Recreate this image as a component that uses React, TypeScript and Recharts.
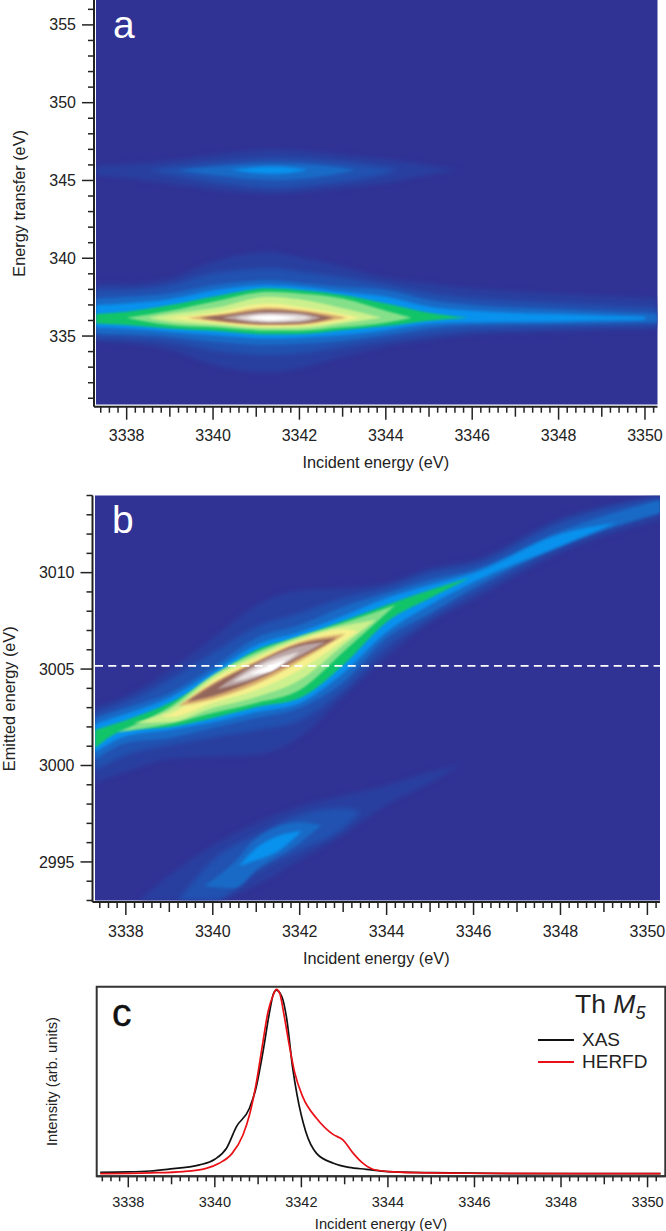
import { ComposedChart, Area, Line, XAxis, YAxis, Legend, ReferenceLine, ReferenceArea } from "recharts";

const FONT = '"Liberation Sans", Arial, sans-serif';
const INK = "#222";
const DEEP = "#303294";

const X_MIN = 3337.29;
const X_MAX = 3350.29;
const xTicks = Array.from({ length: 65 }, (_, i) => (33374 + 2 * i) / 10);

// panel a: y ticks and contour outlines (top / bottom edge of every level)
const aYTicks = [331, 332, 333, 334, 335, 336, 337, 338, 339, 340, 341, 342, 343, 344, 345, 346, 347, 348, 349, 350, 351, 352, 353, 354, 355, 356];
const aWideX = [X_MIN, 3338, 3339, 3340, 3341.3, 3342, 3343, 3344, 3345, 3346, 3348, X_MAX];
const aTop1 = [338.34, 338.34, 338.71, 339.78, 340.42, 340.1, 339.46, 338.75, 338.39, 338.07, 337.74, 337.42];
const aBot1 = [334.64, 334.53, 334.1, 333.14, 332.66, 332.92, 333.67, 334.31, 334.74, 335.06, 335.28, 335.43];
const aTop2 = [337.96, 337.96, 338.28, 339.03, 339.35, 339.14, 338.77, 338.28, 337.74, 337.42, 337.1, 336.78];
const aBot2 = [334.91, 334.85, 334.64, 334.1, 333.78, 333.89, 334.31, 334.74, 335.11, 335.39, 335.56, 335.71];
const aTop3 = [337.42, 337.53, 337.74, 338.28, 338.6, 338.43, 338.17, 337.96, 337.32, 336.99, 336.71, 336.44];
const aBot3 = [335.17, 335.11, 334.96, 334.64, 334.42, 334.49, 334.7, 335.06, 335.49, 335.71, 335.77, 335.88];
const aX4 = [X_MIN, 3338, 3339, 3340, 3341.3, 3342, 3343, 3344, 3345, 3346, 3348, 3350];
const aTop4 = [336.99, 337.1, 337.36, 337.92, 338.28, 338.17, 337.85, 337.53, 336.89, 336.63, 336.41, 336.24];
const aBot4 = [335.56, 335.49, 335.28, 335.06, 334.85, 334.89, 335.06, 335.39, 335.77, 335.88, 335.94, 336.04];
const aX5 = [X_MIN, 3338, 3339, 3340, 3341.3, 3342, 3343, 3344, 3345, 3345.9];
const aTop5 = [336.41, 336.56, 336.99, 337.53, 338.07, 337.96, 337.64, 337.1, 336.5, 336.18];
const aBot5 = [335.81, 335.71, 335.49, 335.34, 335.11, 335.13, 335.39, 335.64, 335.99, 336.18];
const aX6 = [3338, 3339, 3340, 3341.3, 3342, 3343, 3344, 3344.6];
const aTop6 = [336.18, 336.63, 337.21, 337.85, 337.74, 337.42, 336.63, 336.18];
const aBot6 = [336.18, 335.71, 335.56, 335.34, 335.34, 335.56, 335.86, 336.18];
const aX7 = [3338.5, 3339, 3340, 3341.3, 3342, 3343, 3343.9];
const aTop7 = [336.18, 336.41, 336.78, 337.53, 337.36, 336.78, 336.18];
const aBot7 = [336.18, 335.92, 335.71, 335.49, 335.49, 335.81, 336.18];
const aX8 = [3338.9, 3340, 3341.3, 3342, 3343, 3343.4];
const aTop8 = [336.18, 336.5, 337.1, 336.89, 336.41, 336.18];
const aBot8 = [336.18, 335.86, 335.6, 335.64, 335.96, 336.18];
const aX9 = [3339.4, 3340, 3341.3, 3342, 3342.8, 3343.1];
const aTop9 = [336.18, 336.33, 336.84, 336.67, 336.35, 336.18];
const aBot9 = [336.18, 335.96, 335.69, 335.73, 336.03, 336.18];
const aX10 = [3339.7, 3340.3, 3341.3, 3342, 3342.8];
const aTop10 = [336.18, 336.35, 336.67, 336.54, 336.18];
const aBot10 = [336.18, 335.94, 335.77, 335.81, 336.18];
const aX11 = [3340.2, 3341.3, 3342, 3342.5];
const aTop11 = [336.18, 336.55, 336.46, 336.18];
const aBot11 = [336.18, 335.84, 335.88, 336.18];
const aX12 = [3340.5, 3341.3, 3341.9, 3342.3];
const aTop12 = [336.18, 336.42, 336.37, 336.18];
const aBot12 = [336.18, 335.92, 335.98, 336.18];
const aX13 = [3340.8, 3341.3, 3341.95];
const aTop13 = [336.18, 336.32, 336.18];
const aBot13 = [336.18, 336.02, 336.18];

// panel a: the weak feature near 345.7 eV
const a2X1 = [X_MIN, 3338, 3339, 3340, 3341.4, 3342, 3343, 3344, 3345, 3345.7];
const a2Top1 = [345.95, 346.06, 346.28, 346.64, 347.0, 346.92, 346.64, 346.36, 346.0, 345.68];
const a2Bot1 = [345.29, 345.14, 344.77, 344.39, 344.11, 344.22, 344.5, 344.82, 345.35, 345.68];
const a2X2 = [3338.5, 3339.5, 3340.5, 3341.4, 3342.5, 3343.5, 3344.3];
const a2Top2 = [345.68, 346.0, 346.25, 346.43, 346.28, 346.0, 345.68];
const a2Bot2 = [345.68, 345.14, 344.71, 344.5, 344.77, 345.14, 345.68];
const a2X3 = [3339.2, 3340.2, 3341.4, 3342.6, 3343.3];
const a2Top3 = [345.68, 345.93, 346.1, 345.95, 345.68];
const a2Bot3 = [345.68, 345.29, 345.03, 345.29, 345.68];
const a2X4 = [3340.4, 3341.4, 3342.2];
const a2Top4 = [345.68, 345.89, 345.68];
const a2Bot4 = [345.68, 345.42, 345.68];

// panel b: y ticks and contour outlines
const bYTicks = [2993, 2994, 2995, 2996, 2997, 2998, 2999, 3000, 3001, 3002, 3003, 3004, 3005, 3006, 3007, 3008, 3009, 3010, 3011, 3012, 3013, 3014];
const bWideX = [X_MIN, 3338, 3339, 3340, 3341, 3342, 3343, 3344, 3345, 3346, 3348, X_MAX];
const bTop1 = [3003.03, 3003.6, 3004.95, 3006.61, 3008.32, 3009.1, 3009.2, 3009.46, 3010.24, 3010.65, 3012.83, 3014];
const bBot1 = [2999.09, 2999.66, 3000.33, 3000.44, 3000.54, 3001.47, 3003.55, 3005.62, 3007.39, 3008.58, 3011.02, 3012.73];
const bTop2 = [3002.72, 3003.29, 3004.43, 3005.83, 3007.18, 3007.9, 3008.68, 3009.2, 3009.98, 3010.39, 3012.57, 3013.87];
const bBot2 = [2999.76, 3000.54, 3001.06, 3001.47, 3001.84, 3002.35, 3003.91, 3006.14, 3007.65, 3008.94, 3011.28, 3013.09];
const bTop3 = [3002.46, 3002.98, 3003.76, 3005.1, 3006.61, 3007.28, 3008.22, 3008.94, 3009.62, 3010.13, 3012.16, 3013.77];
const bBot3 = [3000.28, 3001.16, 3001.42, 3001.94, 3002.46, 3002.98, 3004.33, 3006.61, 3007.9, 3009.2, 3011.38, 3013.09];
const bX4 = [X_MIN, 3338, 3339, 3340, 3341, 3342, 3343, 3344, 3345, 3346, 3348, 3349.3];
const bTop4 = [3002.15, 3002.67, 3003.5, 3004.84, 3006.24, 3006.92, 3007.75, 3008.68, 3009.36, 3009.98, 3012.0, 3012.6];
const bBot4 = [3000.69, 3001.53, 3001.84, 3002.25, 3002.77, 3003.24, 3004.79, 3006.92, 3008.32, 3009.51, 3011.38, 3012.6];
const bX5 = [X_MIN, 3338, 3339, 3340, 3341, 3342, 3343, 3344, 3345, 3345.9];
const bTop5 = [3001.84, 3002.35, 3003.24, 3004.53, 3005.99, 3006.66, 3007.49, 3008.32, 3009.1, 3009.72];
const bBot5 = [3000.9, 3001.84, 3001.99, 3002.46, 3003.03, 3003.5, 3005.21, 3007.44, 3008.68, 3009.72];
const bX6 = [3337.8, 3339, 3340, 3341, 3342, 3343, 3344.2];
const bTop6 = [3001.73, 3003.03, 3004.69, 3005.88, 3006.71, 3007.39, 3008.32];
const bBot6 = [3001.73, 3002.15, 3002.72, 3003.24, 3003.91, 3005.88, 3008.32];
const bX7 = [3338.17, 3339, 3340, 3341, 3342, 3343, 3343.75];
const bTop7 = [3002.2, 3002.87, 3004.59, 3005.73, 3006.61, 3007.23, 3007.54];
const bBot7 = [3002.2, 3002.25, 3002.98, 3003.55, 3004.43, 3006.24, 3007.54];
const bX8 = [3338.8, 3339, 3340, 3341, 3342, 3343, 3343.35];
const bTop8 = [3002.61, 3002.67, 3004.43, 3005.57, 3006.5, 3007.07, 3006.97];
const bBot8 = [3002.61, 3002.51, 3003.24, 3003.91, 3004.95, 3006.45, 3006.97];
const bX9 = [3339.2, 3340, 3341, 3342, 3343.05];
const bTop9 = [3003.08, 3004.27, 3005.41, 3006.4, 3006.82];
const bBot9 = [3003.08, 3003.44, 3004.22, 3005.41, 3006.82];
const bX10 = [3339.4, 3340, 3341, 3342, 3342.85];
const bTop10 = [3003.29, 3004.17, 3005.31, 3006.3, 3006.61];
const bBot10 = [3003.29, 3003.6, 3004.43, 3005.57, 3006.61];
const bX11 = [3340.1, 3341, 3342, 3342.6];
const bTop11 = [3003.96, 3005.26, 3006.19, 3006.4];
const bBot11 = [3003.96, 3004.54, 3005.68, 3006.4];
const bX12 = [3340.45, 3341, 3341.5, 3342];
const bTop12 = [3004.33, 3005.1, 3005.57, 3005.88];
const bBot12 = [3004.33, 3004.64, 3005.11, 3005.88];
const bX13 = [3340.85, 3341.3, 3341.7];
const bTop13 = [3004.74, 3005.2, 3005.5];
const bBot13 = [3004.74, 3004.86, 3005.5];

// panel b: the weak diagonal feature near 2995 eV
const b2X1 = [3338.3, 3339, 3340, 3341, 3342, 3343, 3344, 3345, 3345.7];
const b2Top1 = [2993, 2994.32, 2995.87, 2997.01, 2997.89, 2998.46, 2998.98, 2999.66, 3000.02];
const b2Bot1 = [2993, 2993, 2993, 2993.8, 2995.09, 2996.39, 2997.95, 2999.09, 3000.02];
const b2X2 = [3339.2, 3340, 3341, 3342, 3343, 3343.4];
const b2Top2 = [2993, 2995.09, 2996.39, 2997.43, 2997.79, 2997.58];
const b2Bot2 = [2993, 2993, 2994.47, 2995.61, 2996.75, 2997.58];
const b2X3 = [3339.8, 3340.5, 3341, 3342, 3342.5];
const b2Top3 = [2993.74, 2994.99, 2996.23, 2997.06, 2996.91];
const b2Bot3 = [2993.74, 2993.64, 2994.58, 2995.98, 2996.91];
const b2X4 = [3340.6, 3341, 3341.5, 3342.05];
const b2Top4 = [2994.78, 2995.72, 2996.34, 2996.6];
const b2Bot4 = [2994.78, 2995.09, 2995.56, 2996.6];

// panel c: scans, intensity in percent of the box height
const xasX = [3337.35, 3338, 3338.5, 3338.9, 3339.65, 3340, 3340.27, 3340.5, 3340.8, 3340.95, 3341.1, 3341.28, 3341.35, 3341.42, 3341.55, 3341.66, 3341.8, 3341.9, 3342.1, 3342.35, 3342.74, 3343.1, 3343.5, 3344, 3345, 3347.3, 3350.3];
const xasY = [2.1, 2.3, 2.8, 3.7, 6.0, 9.0, 14.8, 26.2, 35.9, 46.4, 64, 88.6, 96, 98.2, 94.7, 83.3, 56.9, 42.9, 23.6, 12.1, 6.9, 4.7, 3.7, 2.5, 1.9, 1.4, 1.4];
const herfdX = [3337.35, 3338.5, 3339.27, 3339.8, 3340.1, 3340.4, 3340.65, 3340.8, 3340.95, 3341.1, 3341.23, 3341.35, 3341.42, 3341.5, 3341.6, 3341.72, 3341.84, 3342.03, 3342.35, 3342.73, 3342.96, 3343.2, 3343.42, 3343.65, 3344, 3344.65, 3345.8, 3350.3];
const herfdY = [1.4, 1.8, 2.5, 4.2, 6.9, 12.1, 21.8, 32.3, 48.2, 69.2, 86.8, 95.6, 98.6, 96.5, 85, 69.2, 55.2, 42, 30.6, 22.1, 19.2, 12.1, 6.9, 3.7, 2.5, 1.9, 1.6, 1.4];

const LEVEL_1 = "#293f9f";
const LEVEL_2 = "#2152b1";
const LEVEL_3 = "#196ac6";
const LEVEL_4 = "#0892ee";
const LEVEL_5 = "#12c468";
const LEVEL_6 = "#86e08a";
const LEVEL_7 = "#cdf08e";
const LEVEL_8 = "#f6f08e";
const LEVEL_9 = "#d9ad6e";
const LEVEL_10 = "#93665c";
const LEVEL_11 = "#bba6a6";
const LEVEL_12 = "#e6dede";
const LEVEL_13 = "#ffffff";

// softness of each level: the broad blue ones get the widest blur
const softWide = [LEVEL_1, LEVEL_2];
const softMid = [LEVEL_3, LEVEL_4];

type Band = [number[], number[], number[], string];

const aBands: Band[] = [
  [a2X1, a2Top1, a2Bot1, LEVEL_1],
  [a2X2, a2Top2, a2Bot2, LEVEL_2],
  [a2X3, a2Top3, a2Bot3, LEVEL_3],
  [a2X4, a2Top4, a2Bot4, LEVEL_4],
  [aWideX, aTop1, aBot1, LEVEL_1],
  [aWideX, aTop2, aBot2, LEVEL_2],
  [aWideX, aTop3, aBot3, LEVEL_3],
  [aX4, aTop4, aBot4, LEVEL_4],
  [aX5, aTop5, aBot5, LEVEL_5],
  [aX6, aTop6, aBot6, LEVEL_6],
  [aX7, aTop7, aBot7, LEVEL_7],
  [aX8, aTop8, aBot8, LEVEL_8],
  [aX9, aTop9, aBot9, LEVEL_9],
  [aX10, aTop10, aBot10, LEVEL_10],
  [aX11, aTop11, aBot11, LEVEL_11],
  [aX12, aTop12, aBot12, LEVEL_12],
  [aX13, aTop13, aBot13, LEVEL_13],
];

const bBands: Band[] = [
  [b2X1, b2Top1, b2Bot1, LEVEL_1],
  [b2X2, b2Top2, b2Bot2, LEVEL_2],
  [b2X3, b2Top3, b2Bot3, LEVEL_3],
  [b2X4, b2Top4, b2Bot4, LEVEL_4],
  [bWideX, bTop1, bBot1, LEVEL_1],
  [bWideX, bTop2, bBot2, LEVEL_2],
  [bWideX, bTop3, bBot3, LEVEL_3],
  [bX4, bTop4, bBot4, LEVEL_4],
  [bX5, bTop5, bBot5, LEVEL_5],
  [bX6, bTop6, bBot6, LEVEL_6],
  [bX7, bTop7, bBot7, LEVEL_7],
  [bX8, bTop8, bBot8, LEVEL_8],
  [bX9, bTop9, bBot9, LEVEL_9],
  [bX10, bTop10, bBot10, LEVEL_10],
  [bX11, bTop11, bBot11, LEVEL_11],
  [bX12, bTop12, bBot12, LEVEL_12],
  [bX13, bTop13, bBot13, LEVEL_13],
];

const toRows = (xs: number[], top: number[], bot: number[]) => xs.map((x, i) => ({ x, range: [bot[i], top[i]] }));
const toLine = (xs: number[], ys: number[]) => xs.map((x, i) => ({ x, y: ys[i] }));
const softClass = (color: string) => {
  if (softWide.includes(color)) return "soft-wide";
  if (softMid.includes(color)) return "soft-mid";
  return "soft-thin";
};

function makeXTick(fontSize: number, labelDy: number, lens: number[]) {
  return function XTick({ x, y, payload }: any) {
    const v = payload.value;
    const isMajor = Math.abs(v / 2 - Math.round(v / 2)) < 1e-6;
    const isMid = Math.abs(v - Math.round(v)) < 1e-6;
    const len = isMajor ? lens[2] : isMid ? lens[1] : lens[0];
    return (
      <g>
        <line x1={x} x2={x} y1={y} y2={y + len} stroke={INK} strokeWidth={1.5} />
        {isMajor && (
          <text x={x} y={y + labelDy} textAnchor="middle" fontSize={fontSize} fontFamily={FONT} fill={INK}>
            {v}
          </text>
        )}
      </g>
    );
  };
}

function YTick({ x, y, payload }: any) {
  const isMajor = payload.value % 5 === 0;
  const len = isMajor ? 12 : 6;
  return (
    <g>
      <line x1={x} x2={x - len} y1={y} y2={y} stroke={INK} strokeWidth={1.5} />
      {isMajor && (
        <text x={x - 18} y={y + 5.6} textAnchor="end" fontSize={16} fontFamily={FONT} fill={INK}>
          {payload.value}
        </text>
      )}
    </g>
  );
}

function HeatPanel({
  top,
  height,
  marginTop,
  marginRight,
  yWidth,
  xHeight,
  xLabelOffset,
  padLeft,
  padBottom,
  yDomain,
  yTicks,
  yLabel,
  yLabelDx,
  bands,
  clipName,
  children,
}: any) {
  const corners = [
    { x: X_MIN, range: yDomain },
    { x: X_MAX, range: yDomain },
  ];
  return (
    <div style={{ position: "absolute", left: 0, top }}>
      <ComposedChart
        width={666}
        height={height}
        margin={{ top: marginTop, right: marginRight, bottom: 0, left: 0 }}
      >
        <XAxis
          type="number"
          dataKey="x"
          domain={[X_MIN, X_MAX]}
          ticks={xTicks}
          interval={0}
          height={xHeight}
          padding={{ left: padLeft, right: 0 }}
          axisLine={{ stroke: INK, strokeWidth: 2 }}
          tickLine={false}
          tickSize={0}
          tickMargin={0}
          tick={makeXTick(16, 34.5, [6, 10, 13])}
          label={{
            value: "Incident energy (eV)",
            position: "insideBottom",
            offset: xLabelOffset,
            style: { fontFamily: FONT, fontSize: 16.3, fill: INK },
          }}
        />
        <YAxis
          type="number"
          domain={yDomain}
          ticks={yTicks}
          interval={0}
          width={yWidth}
          padding={{ top: 0, bottom: padBottom }}
          axisLine={{ stroke: INK, strokeWidth: 2 }}
          tickLine={false}
          tickSize={0}
          tickMargin={0}
          tick={YTick}
          label={{
            value: yLabel,
            angle: -90,
            position: "insideLeft",
            dx: yLabelDx,
            style: { textAnchor: "middle", fontFamily: FONT, fontSize: 16.3, fill: INK },
          }}
        />
        <Area
          data={corners}
          dataKey="range"
          type="linear"
          fill={DEEP}
          fillOpacity={1}
          stroke="none"
          dot={false}
          activeDot={false}
          isAnimationActive={false}
        />
        {bands.map(([xs, t, b, color]: Band, i: number) => (
          <Area
            key={i}
            className={`${softClass(color)} ${clipName}`}
            data={toRows(xs, t, b)}
            dataKey="range"
            type="monotone"
            fill={color}
            fillOpacity={1}
            stroke="none"
            dot={false}
            activeDot={false}
            isAnimationActive={false}
          />
        ))}
        {children}
      </ComposedChart>
    </div>
  );
}

function ScanLegend({ payload }: any) {
  return (
    <div style={{ fontFamily: FONT, fontSize: 19, color: INK, lineHeight: "22px" }}>
      {(payload || []).map((p: any) => (
        <div key={p.value} style={{ display: "flex", alignItems: "center" }}>
          <span style={{ display: "inline-block", width: 36, height: 1.8, background: p.color, marginRight: 8 }} />
          {p.value}
        </div>
      ))}
    </div>
  );
}

function ScanPanel() {
  return (
    <div style={{ position: "absolute", left: 0, top: 980 }}>
      <ComposedChart width={666} height={251} margin={{ top: 6.7, right: 0.7, bottom: 0, left: 0 }}>
        <XAxis
          type="number"
          dataKey="x"
          domain={[3337.27, 3350.41]}
          ticks={xTicks}
          interval={0}
          height={54.7}
          axisLine={{ stroke: "#333", strokeWidth: 2 }}
          tickLine={false}
          tickSize={0}
          tickMargin={0}
          tick={makeXTick(14.5, 30.5, [5, 8, 11])}
          label={{
            value: "Incident energy (eV)",
            position: "insideBottom",
            offset: 2,
            style: { fontFamily: FONT, fontSize: 14.7, fill: INK },
          }}
        />
        <YAxis
          type="number"
          domain={[0, 100]}
          width={96.7}
          axisLine={false}
          tick={false}
          tickLine={false}
          label={{
            value: "Intensity (arb. units)",
            angle: -90,
            position: "insideLeft",
            dx: 47,
            style: { textAnchor: "middle", fontFamily: FONT, fontSize: 14.7, fill: INK },
          }}
        />
        <ReferenceArea x1={3337.27} x2={3350.41} y1={0} y2={100} fill="none" stroke="#333" strokeWidth={2} />
        <Line
          data={toLine(xasX, xasY)}
          dataKey="y"
          name="XAS"
          type="monotone"
          stroke="#111"
          strokeWidth={1.7}
          dot={false}
          activeDot={false}
          isAnimationActive={false}
        />
        <Line
          data={toLine(herfdX, herfdY)}
          dataKey="y"
          name="HERFD"
          type="monotone"
          stroke="#ea1016"
          strokeWidth={1.7}
          dot={false}
          activeDot={false}
          isAnimationActive={false}
        />
        <Legend
          content={ScanLegend}
          itemSorter={null}
          layout="horizontal"
          align="center"
          verticalAlign="middle"
          wrapperStyle={{ left: 538, top: 49, width: 125, bottom: "auto" }}
        />
      </ComposedChart>
    </div>
  );
}

const panelLetter = (text: string, left: number, top: number, color: string, stroke = 0): any => (
  <div
    style={{
      position: "absolute",
      left,
      top,
      fontFamily: FONT,
      fontSize: 39,
      lineHeight: "39px",
      color,
      WebkitTextStroke: `${stroke}px ${color}`,
    }}
  >
    {text}
  </div>
);

export default function App() {
  return (
    <div style={{ position: "absolute", left: 0, top: 0, width: 666, height: 1231, background: "#fff", overflow: "hidden" }}>
      <style>{`
        .soft-wide { filter: blur(2.4px); }
        .soft-mid { filter: blur(1.4px); }
        .soft-thin { filter: blur(1px); }
        .heat-a { clip-path: url(#clip-a); }
        .heat-b { clip-path: url(#clip-b); }
      `}</style>
      <svg width={0} height={0} style={{ position: "absolute" }}>
        <defs>
          <clipPath id="clip-a">
            <rect x={96} y={0} width={561.5} height={404.5} />
          </clipPath>
          <clipPath id="clip-b">
            <rect x={95} y={5.5} width={565} height={405} />
          </clipPath>
        </defs>
      </svg>
      <HeatPanel
        top={0}
        height={480}
        marginTop={0}
        marginRight={8.5}
        yWidth={94}
        xHeight={73.3}
        xLabelOffset={12}
        padLeft={2}
        padBottom={2.2}
        yDomain={[330.6, 356.6]}
        yTicks={aYTicks}
        yLabel="Energy transfer (eV)"
        yLabelDx={14}
        bands={aBands}
        clipName="heat-a"
      />
      <HeatPanel
        top={490}
        height={490}
        marginTop={5.5}
        marginRight={6}
        yWidth={92.5}
        xHeight={78}
        xLabelOffset={16}
        padLeft={2.5}
        padBottom={1.5}
        yDomain={[2993, 3014]}
        yTicks={bYTicks}
        yLabel="Emitted energy (eV)"
        yLabelDx={4}
        bands={bBands}
        clipName="heat-b"
      >
        <ReferenceLine
          segment={[
            { x: X_MIN, y: 3005.17 },
            { x: X_MAX, y: 3005.17 },
          ]}
          stroke="#fff"
          strokeWidth={1.7}
          strokeDasharray="8 5.3"
        />
      </HeatPanel>
      <ScanPanel />
      {panelLetter("a", 113, 5, "#fff")}
      {panelLetter("b", 112, 500, "#fff")}
      {panelLetter("c", 112, 993, "#111", 0.4)}
      <div style={{ position: "absolute", left: 575, top: 989, fontFamily: FONT, fontSize: 26.5, lineHeight: "30px", color: INK, whiteSpace: "nowrap" }}>
        Th <i>M<sub style={{ fontSize: 18, lineHeight: 0 }}>5</sub></i>
      </div>
    </div>
  );
}
